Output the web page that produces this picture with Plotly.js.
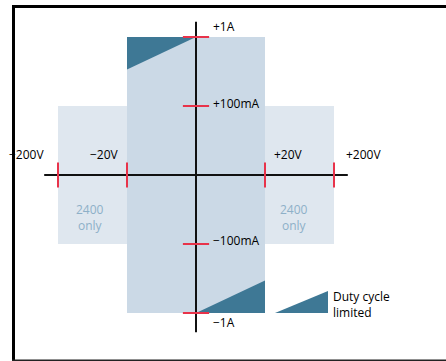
<!DOCTYPE html>
<html>
<head>
<meta charset="utf-8">
<script src="https://cdn.plot.ly/plotly-3.0.1.min.js"></script>
<style>
  body { margin: 0; background: #fff; }
  #grafico { width: 446px; height: 361px; }
</style>
</head>
<body>
<div id="grafico"></div>
<script>
// Niveles en escala logaritmica: 1 = 20V / 100mA, 2 = 200V / 1A
const voltPos = [-2, -1, 1, 2];
const voltLabels = ["\u2212200V", "\u221220V", "+20V", "+200V"];
const currPos = [2, 1, -1, -2];
const currLabels = ["+1A", "+100mA", "\u2212100mA", "\u22121A"];

// Zona estandar y zona solo 2400
const stdV = [-1, 1];
const stdI = [-2, 2];
const extV = [1, 2];
const extI = [-1, 1];

// Cuñas de ciclo de trabajo limitado
const dutyEdge = 1.53;
const legendV = [1.145, 1.913];
const legendI = [-2, -1.68];

const azul = "#cbd9e6";
const azulClaro = "#dfe7ef";
const teal = "#3e7895";
const rojo = "#e8334a";

const rect = (x0, x1, y0, y1, color) => ({
  x: [x0, x1, x1, x0, x0],
  y: [y0, y0, y1, y1, y0],
  fill: "toself", fillcolor: color, mode: "lines",
  line: { width: 0 }, hoverinfo: "skip"
});
const tri = (xs, ys, color) => ({
  x: xs.concat([xs[0]]), y: ys.concat([ys[0]]),
  fill: "toself", fillcolor: color, mode: "lines",
  line: { width: 0 }, hoverinfo: "skip"
});

var datos = [
  rect(-extV[1], -extV[0], extI[0], extI[1], azulClaro),
  rect(extV[0], extV[1], extI[0], extI[1], azulClaro),
  rect(stdV[0], stdV[1], stdI[0], stdI[1], azul),
  tri([stdV[0], 0, stdV[0]], [stdI[1], stdI[1], dutyEdge], teal),
  tri([0, stdV[1], stdV[1]], [stdI[0], stdI[0], -dutyEdge], teal),
  tri([legendV[0], legendV[1], legendV[1]], [legendI[0], legendI[0], legendI[1]], teal),
  // ejes
  { x: [-2.2, 2.2], y: [0, 0], mode: "lines", line: { color: "#111", width: 2 }, hoverinfo: "skip" },
  { x: [0, 0], y: [2.22, -2.28], mode: "lines", line: { color: "#111", width: 2 }, hoverinfo: "skip" }
];

// marcas rojas
voltPos.forEach((v) => {
  datos.push({ x: [v, v], y: [-0.18, 0.18], mode: "lines", line: { color: rojo, width: 2 }, hoverinfo: "skip" });
});
currPos.forEach((c) => {
  datos.push({ x: [-0.19, 0.19], y: [c, c], mode: "lines", line: { color: rojo, width: 2 }, hoverinfo: "skip" });
});

const fuente = { family: "Open Sans, sans-serif", size: 12, color: "#000", weight: 500 };
var anotaciones = [];

const voltShift = [-12, -6, 7, 10];
voltLabels.forEach((t, k) => {
  anotaciones.push({
    x: voltPos[k], y: 0, text: t, showarrow: false, font: fuente,
    xanchor: voltPos[k] < 0 ? "right" : "left", xshift: voltShift[k], yshift: 21
  });
});
const currY = [11, 3, 4, -9];
currLabels.forEach((t, k) => {
  anotaciones.push({
    x: 0, y: currPos[k], text: t, showarrow: false, font: fuente,
    xanchor: "left", xshift: 15, yshift: currY[k]
  });
});

const gris = { family: "Open Sans, sans-serif", size: 12, color: "#8eb0c8", weight: 500 };
[[-1.5, -3], [1.5, -6]].forEach(([x, s]) => {
  anotaciones.push({ x: x, y: 0, text: "2400<br>only", showarrow: false, font: gris, xshift: s, yshift: -42 });
});

anotaciones.push({
  x: legendV[1], y: legendI[1], text: "Duty cycle<br>limited", showarrow: false, font: fuente,
  xanchor: "left", align: "left", xshift: 3, yshift: -14
});

var diseño = {
  width: 446, height: 361,
  margin: { l: 0, r: 0, t: 0, b: 0 },
  paper_bgcolor: "#fff", plot_bgcolor: "#fff",
  showlegend: false,
  xaxis: { range: [-196 / 69, 250 / 69], visible: false, fixedrange: true },
  yaxis: { range: [-186 / 69, 175 / 69], visible: false, fixedrange: true },
  annotations: anotaciones,
  shapes: [
    { type: "line", xref: "paper", yref: "paper", x0: 13.5 / 446, x1: 13.5 / 446, y0: 0, y1: 1 - 6.5 / 361, line: { color: "#000", width: 3 } },
    { type: "line", xref: "paper", yref: "paper", x0: 12 / 446, x1: 1, y0: 1 - 6.5 / 361, y1: 1 - 6.5 / 361, line: { color: "#000", width: 3 } },
    { type: "line", xref: "paper", yref: "paper", x0: 12 / 446, x1: 1, y0: 0.8 / 361, y1: 0.8 / 361, line: { color: "#222", width: 1.5 } }
  ]
};

Plotly.newPlot("grafico", datos, diseño, { staticPlot: true });
</script>
</body>
</html>
